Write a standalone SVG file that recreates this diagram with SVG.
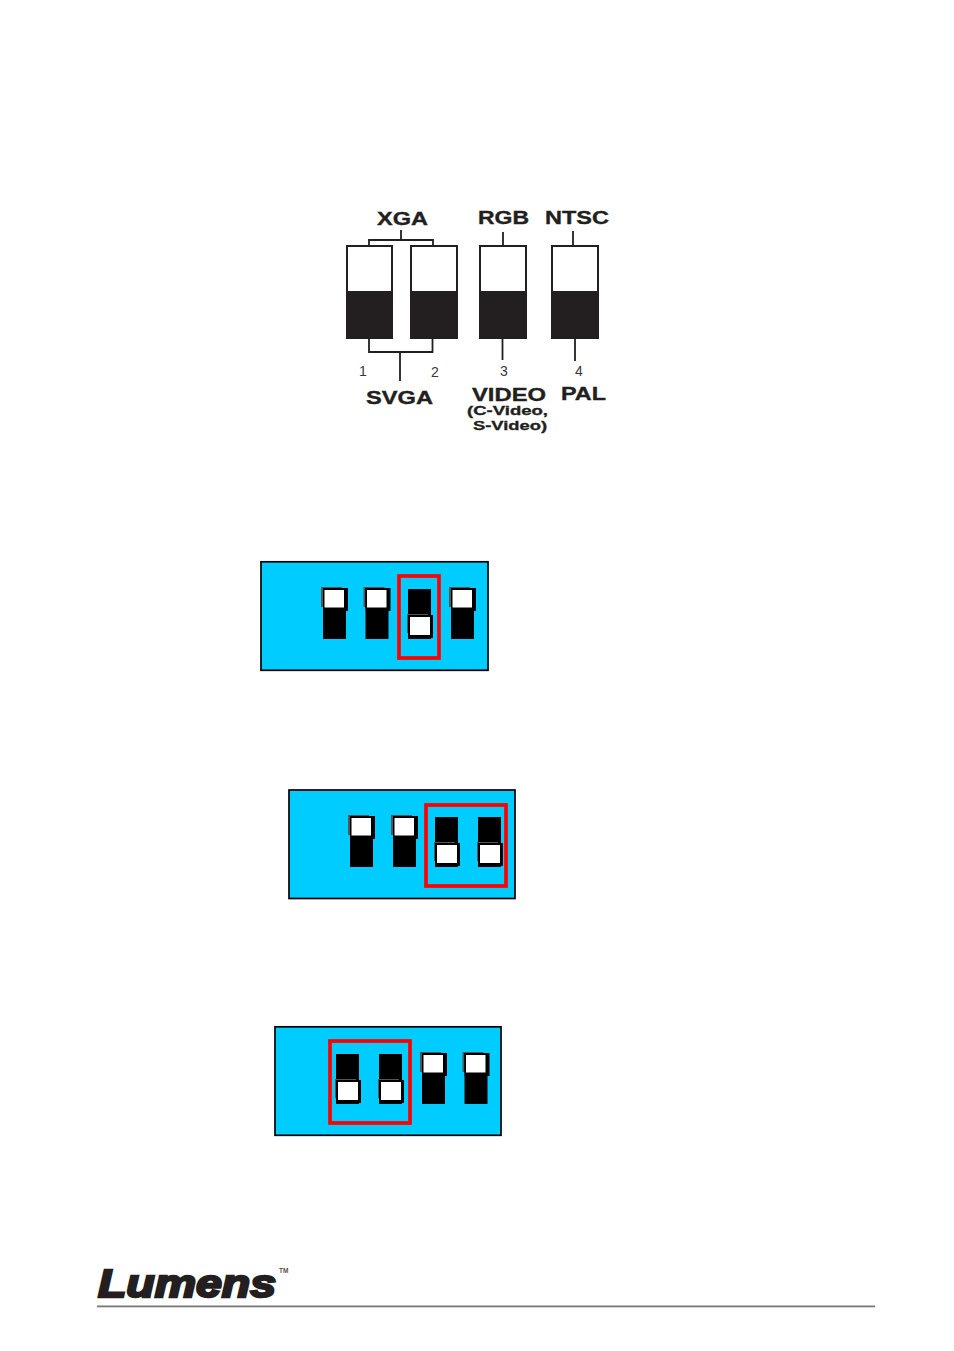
<svg xmlns="http://www.w3.org/2000/svg" width="954" height="1351" viewBox="0 0 954 1351">
<style>
.lbl{font-family:"Liberation Sans",Arial,sans-serif;font-weight:700;fill:#231f20;stroke:#231f20;stroke-width:.35}
.num{font-family:"Liberation Sans",Arial,sans-serif;font-size:14px;fill:#3a3738}
.wire{fill:none;stroke:#231f20;stroke-width:1.8}
.panel{fill:#00ccff;stroke:#000;stroke-width:1.7}
.red{fill:none;stroke:#ff0000;stroke-width:3.700}
.sw-top{fill:#fff;stroke:#231f20;stroke-width:2}
.sw-bot{fill:#231f20;stroke:#231f20;stroke-width:2}
</style>
<defs>
<g id="up">
<rect x="-2" y="-1" width="21" height="20" fill="#555"/>
<rect x="0" y="0" width="23" height="51" fill="#000"/>
<rect x="0" y="0" width="25" height="23" fill="#000"/>
<rect x="1.500" y="2" width="19.500" height="17.500" fill="#fff"/>
</g>
<g id="down">
<rect x="0" y="0" width="23" height="50" fill="#000"/>
<rect x="-1" y="25" width="21" height="19" fill="#555"/>
<rect x="0" y="26" width="25" height="23" fill="#000"/>
<rect x="2" y="28" width="20" height="18" fill="#fff"/>
</g>
</defs>
<rect width="954" height="1351" fill="#fff"/>
<g id="connectors">
<path class="wire" d="M369 245V240H433V245M401 240V230"/>
<path class="wire" d="M369 338V352H432.500V338M400 352V381"/>
<path class="wire" d="M503 245V232"/>
<path class="wire" d="M573 245V231"/>
<path class="wire" d="M502.500 338V360"/>
<path class="wire" d="M575 338V361"/>
</g>
<g id="switch-1"><rect class="sw-top" x="347" y="246" width="45" height="46"/><rect class="sw-bot" x="347" y="292" width="45" height="46"/><text class="num" x="363" y="376" text-anchor="middle">1</text></g>
<g id="switch-2"><rect class="sw-top" x="411" y="246" width="46" height="46"/><rect class="sw-bot" x="411" y="292" width="46" height="46"/><text class="num" x="435" y="377" text-anchor="middle">2</text></g>
<g id="switch-3"><rect class="sw-top" x="480" y="246" width="46" height="46"/><rect class="sw-bot" x="480" y="292" width="46" height="46"/><text class="num" x="504" y="376" text-anchor="middle">3</text></g>
<g id="switch-4"><rect class="sw-top" x="552" y="246" width="46" height="46"/><rect class="sw-bot" x="552" y="292" width="46" height="46"/><text class="num" x="579" y="376" text-anchor="middle">4</text></g>
<g id="labels">
<text class="lbl" x="377" y="225" font-size="18" textLength="51" lengthAdjust="spacingAndGlyphs">XGA</text>
<text class="lbl" x="478" y="224" font-size="18" textLength="51" lengthAdjust="spacingAndGlyphs">RGB</text>
<text class="lbl" x="545" y="224" font-size="18" textLength="64" lengthAdjust="spacingAndGlyphs">NTSC</text>
<text class="lbl" x="366" y="404" font-size="18" textLength="67" lengthAdjust="spacingAndGlyphs">SVGA</text>
<text class="lbl" x="472" y="401" font-size="18" textLength="74" lengthAdjust="spacingAndGlyphs">VIDEO</text>
<text class="lbl" x="561" y="400" font-size="18" textLength="45" lengthAdjust="spacingAndGlyphs">PAL</text>
<text class="lbl" x="467" y="415" font-size="13.500" textLength="81" lengthAdjust="spacingAndGlyphs">(C-Video,</text>
<text class="lbl" x="473" y="430" font-size="13.500" textLength="74" lengthAdjust="spacingAndGlyphs">S-Video)</text>
</g>
<g id="panel-a">
<rect class="panel" x="261" y="561.800" width="227" height="108.500"/>
<use href="#up" x="323" y="588"/><use href="#up" x="365.500" y="588"/><use href="#down" x="408" y="589"/><use href="#up" x="451" y="588"/>
<rect class="red" x="399" y="576" width="40" height="82"/>
</g>
<g id="panel-b">
<rect class="panel" x="289" y="790" width="226" height="108.500"/>
<use href="#up" x="350" y="816"/><use href="#up" x="393" y="816"/><use href="#down" x="435" y="817"/><use href="#down" x="478" y="817"/>
<rect class="red" x="426" y="805" width="80" height="81"/>
</g>
<g id="panel-c">
<rect class="panel" x="275" y="1026.800" width="226" height="108.500"/>
<use href="#down" x="336" y="1054"/><use href="#down" x="379" y="1054"/><use href="#up" x="422" y="1053"/><use href="#up" x="464.500" y="1053"/>
<rect class="red" x="330" y="1041" width="80" height="82"/>
</g>
<g id="logo">
<text x="98" y="1297" font-family="'Liberation Sans',Arial,sans-serif" font-weight="700" font-style="italic" font-size="39" fill="#231f20" stroke="#231f20" stroke-width="2.400" textLength="178" lengthAdjust="spacingAndGlyphs">Lumens</text>
<text x="279" y="1273" font-family="'Liberation Sans',Arial,sans-serif" font-weight="700" font-size="6.500" fill="#555">TM</text>
<rect x="97" y="1305.500" width="778" height="1.800" fill="#777"/>
</g>
</svg>
